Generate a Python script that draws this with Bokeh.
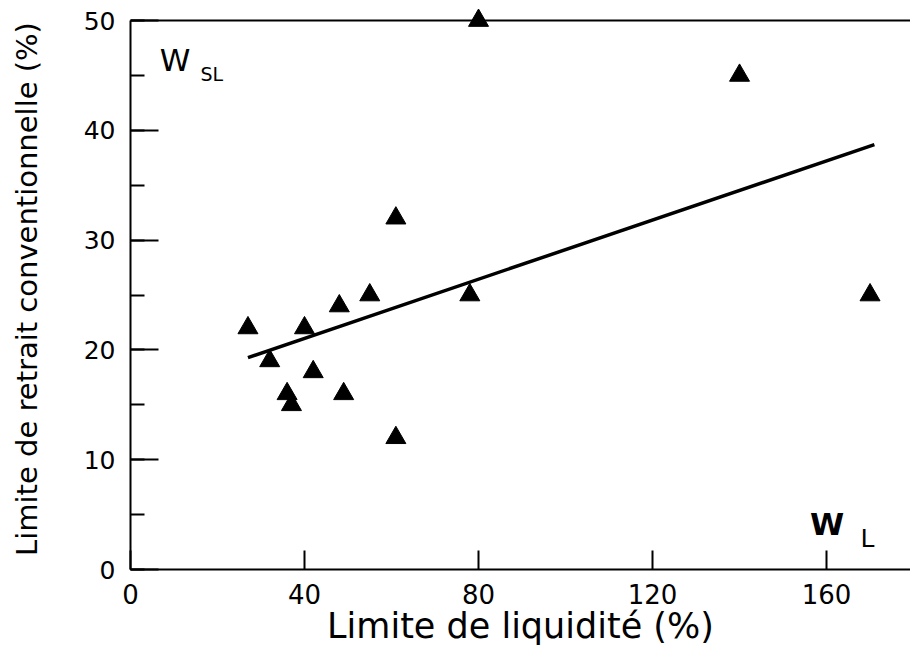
from bokeh.plotting import figure
from bokeh.models import Range1d, SingleIntervalTicker, Span, Label
from bokeh.embed import file_html
from bokeh.resources import INLINE

# Data
liquid_limit = [27, 32, 36, 37, 40, 42, 48, 49, 55, 61, 61, 78, 80, 140, 170]
shrink_limit = [22, 19, 16, 15, 22, 18, 24, 16, 25, 32, 12, 25, 50, 45, 25]

# Regression line end points
fit_x = [27, 171]
fit_y = [19.3, 38.7]

x_label = "Limite de liquidité (%)"
y_label = "Limite de retrait conventionnelle (%)"

p = figure(width=910, height=649, output_backend="svg", toolbar_location=None,
           x_range=Range1d(0, 179.3), y_range=Range1d(0, 51.1),
           min_border_left=130, min_border_right=0, min_border_top=8,
           min_border_bottom=80)
p.outline_line_color = None
p.grid.visible = False
p.background_fill_color = "white"
p.border_fill_color = "white"

FONT = "DejaVu Sans"

# x axis
p.xaxis.ticker = SingleIntervalTicker(interval=40, num_minor_ticks=0)
p.xaxis.major_tick_in = 19
p.xaxis.major_tick_out = 0
p.xaxis.minor_tick_in = 0
p.xaxis.minor_tick_out = 0
p.xaxis.axis_line_width = 2
p.xaxis.major_tick_line_width = 2
p.xaxis.axis_line_color = "black"
p.xaxis.major_tick_line_color = "black"
p.xaxis.major_label_text_font = FONT
p.xaxis.major_label_text_font_size = "26px"
p.xaxis.major_label_text_color = "black"
p.xaxis.major_label_standoff = 14
p.xaxis.axis_label = x_label
p.xaxis.axis_label_text_font = FONT
p.xaxis.axis_label_text_font_size = "35px"
p.xaxis.axis_label_text_font_style = "normal"
p.xaxis.axis_label_text_color = "black"
p.xaxis.axis_label_standoff = -1

# y axis
p.yaxis.ticker = SingleIntervalTicker(interval=10, num_minor_ticks=2)
p.yaxis.bounds = (0, 50)
p.yaxis.major_tick_in = 28
p.yaxis.major_tick_out = 0
p.yaxis.minor_tick_in = 14
p.yaxis.minor_tick_out = 0
p.yaxis.axis_line_width = 2
p.yaxis.major_tick_line_width = 2
p.yaxis.minor_tick_line_width = 2
p.yaxis.axis_line_color = "black"
p.yaxis.major_tick_line_color = "black"
p.yaxis.minor_tick_line_color = "black"
p.yaxis.major_label_text_font = FONT
p.yaxis.major_label_text_font_size = "25px"
p.yaxis.major_label_text_color = "black"
p.yaxis.major_label_standoff = 15
p.yaxis.axis_label = y_label
p.yaxis.axis_label_text_font = FONT
p.yaxis.axis_label_text_font_size = "29px"
p.yaxis.axis_label_text_font_style = "normal"
p.yaxis.axis_label_text_color = "black"
p.yaxis.axis_label_standoff = 37

# top border line at 50
p.add_layout(Span(location=50, dimension="width", line_color="black", line_width=2))

# regression line
p.line(fit_x, fit_y, line_color="black", line_width=3.5)

# data points
p.scatter(liquid_limit, shrink_limit, marker="triangle", size=20,
          fill_color="black", line_color="black")

# annotations
p.add_layout(Label(x=6.7, y=46.4, text="W", text_font=FONT, text_font_size="31px",
                   text_color="black", text_baseline="alphabetic"))
p.add_layout(Label(x=16.1, y=45.1, text="SL", text_font=FONT, text_font_size="19px",
                   text_color="black", text_baseline="alphabetic"))
p.add_layout(Label(x=156.2, y=4.1, text="W", text_font=FONT, text_font_size="31px",
                   text_font_style="bold", text_color="black", text_baseline="alphabetic"))
p.add_layout(Label(x=167.8, y=2.8, text="L", text_font=FONT, text_font_size="25px",
                   text_color="black", text_baseline="alphabetic"))

open("out.html", "w").write(file_html(p, INLINE))
